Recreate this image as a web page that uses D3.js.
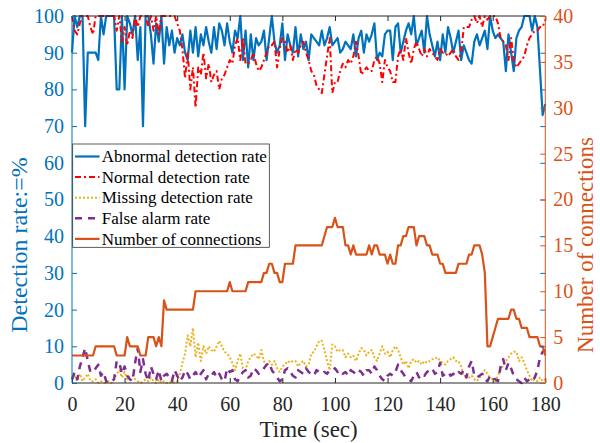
<!DOCTYPE html>
<html>
<head>
<meta charset="utf-8">
<script src="https://cdn.jsdelivr.net/npm/d3@7"></script>
<style>
body { margin: 0; background: #fff; }
</style>
</head>
<body>
<div class="svg-container"></div>
<script>
// seconds 0..180
let seconds = d3.range(0, 181);

let abnormalRate = [
    90,100,97,100,100,70,90,90,90,90,
    88,100,95,100,100,100,100,80,80,100,
    80,100,98,95,100,88,97,70,100,100,
    95,87,98,93,100,87,97,92,96,90,
    94,92,95,90,88,96,90,97,89,95,
    92,97,93,90,97,91,98,96,92,98,
    93,90,96,94,100,88,96,86,95,88,
    94,92,93,96,88,94,100,93,90,92,
    98,88,95,92,90,97,89,95,91,93,
    88,95,94,93,92,96,92,94,97,92,
    93,94,90,91,93,92,91,95,89,94,
    96,90,95,93,95,98,88,90,89,95,
    96,96,88,97,98,90,93,96,98,95,
    100,92,94,96,90,100,95,92,89,93,
    88,95,90,97,94,90,93,96,88,92,
    90,88,87,93,95,92,94,96,91,100,
    96,94,95,94,93,85,95,90,85,94,
    96,97,100,100,100,96,100,97,85,73,
    76];

let normalRate = [
    100,96,95,98,100,100,100,97,95,100,
    100,100,100,100,100,100,100,96,100,93,
    97,92,96,94,100,97,100,100,100,97,
    100,96,100,95,100,100,100,100,100,100,
    98,96,91,83,90,80,86,75,86,84,
    90,83,87,82,84,85,80,83,84,86,
    88,87,92,94,88,94,87,87,88,90,
    87,85,86,88,90,92,92,93,86,91,
    94,93,90,92,88,91,90,92,93,90,
    88,85,84,81,80,79,84,89,94,79,
    82,82,85,87,86,88,87,89,93,89,
    84,85,86,85,85,88,89,87,82,88,
    86,85,82,82,89,91,88,94,90,87,
    91,93,91,89,91,89,91,90,89,88,
    91,90,90,89,90,91,89,88,90,97,
    97,97,99,100,98,100,97,100,99,100,
    100,100,98,94,93,92,88,94,88,86,
    87,88,89,92,94,95,96,96,97,97,
    99];

let missingRate = [
    1,2,0.5,2.5,0.5,1.5,2.5,0.5,0.5,1,
    0,0.5,0,0,0.5,0,1,2.5,3.5,1.5,
    3,1,2,2,1,0.5,0,0.5,1,0.5,
    1.5,0.5,0,1,0,0.5,0,0,0.5,0,
    0.5,2.5,5.5,8,13,10,15,7,11,6,
    10,8,10,9,8.5,10,11.5,10,8.5,8,
    7,5.5,3.5,6,8,4,3.5,6,7,8,
    7.5,6.5,9,6,4.5,6,5,6,4,3,
    4.5,5,6,5.5,6,6,4.5,5.5,6,4.5,
    5,8,8.5,10,11.5,11.5,9,6,3.5,10.5,
    10,8.5,9,9,7,8,7,7.5,6,8,
    9.5,9,7.5,8.5,9,7,6,8,10,8,
    8.5,7,9,10,9,7,5,6,4,6,
    6.5,5.5,6,5,6,5.5,6,6.5,6.5,7,
    6,5.5,5,6,6.5,7,6,6,4.5,2,
    1.5,1.5,2,1,0.5,1.5,2,3.5,2.5,1.5,
    1,0.5,2,3.5,5,6,7,8,8.5,8.5,
    6,7,5.5,3.5,2,0.5,1,0.5,1.5,0.5,
    1];

let falseAlarmRate = [
    1,3,1,4.5,7,9.5,6,3,3,4,
    5,2,3,0.5,0,0.5,1,6,5.5,2.5,
    4.5,2,1,0.5,5.5,9.5,3,6.5,2.5,0.5,
    4.5,2.5,1,3.5,0.5,2,2.5,1.5,0.5,3.5,
    2,0.5,1.5,3.5,2.5,1,2,3,1.5,2.5,
    3.5,1,2.5,2,3,1.5,2.5,1,0.5,4,
    3,3.5,1,0.5,2,3,3.5,1.5,2,4,
    3.5,2.5,3,4,5,5.5,3.5,2.5,1.5,0.5,
    1,3.5,4,3,2,1.5,3.5,3,2.5,4,
    3,2.5,2,3.5,3,2.5,3,2.5,3.5,3.5,
    4,3,3.5,2.5,3,2,3.5,3,2.5,3.5,
    3,2,3.5,3.5,2.5,4.5,3.5,2,1,0.5,
    2,2.5,2,3,5,3.5,2.5,1.5,1,0.5,
    2,3,1.5,2.5,2,3,3.5,4,2.5,3,
    5.5,2,2.5,3,2,2.5,2,3,2.5,3.5,
    1.5,4.5,6,2,1.5,2,2.5,1,0.5,2,
    1.5,1,0.5,4.5,6.5,3.5,5.5,4,2,1,
    0.5,0,1.5,0.5,1,0.5,1.5,3.5,7,8.5,
    9];

let connections = [
    3,3,3,3,3,3,3,3,3,4,
    4,4,4,4,4,4,4,3,3,3,
    3,5,4,4,4,4,3,3,3,5,
    5,5,4,5,4,9,8,8,8,8,
    8,8,8,8,8,8,8,10,10,10,
    10,10,10,10,10,10,10,10,10,10,
    11,10,10,10,10,10,10,11,11,11,
    11,11,11,12,12,13,13,12,12,11,
    11,13,13,13,13,15,15,15,15,15,
    15,15,15,15,15,15,16,17,17,17,
    18,17,17,17,15,15,14,15,14,14,
    14,14,14,15,14,15,15,14,14,14,
    13,14,13,13,15,15,16,16,17,17,
    17,15,16,16,16,15,15,14,14,14,
    13,13,12,12,12,12,12,13,13,13,
    13,14,14,15,15,15,14,12,4,4,
    5,6,7,7,7,7,7,8,8,7,
    7,6,6,6,5,5,5,5,4,4,
    3];

let xTicks = [0, 20, 40, 60, 80, 100, 120, 140, 160, 180];
let leftTicks = [0, 10, 20, 30, 40, 50, 60, 70, 80, 90, 100];
let rightTicks = [0, 5, 10, 15, 20, 25, 30, 35, 40];

let legendLabels = ["Abnormal detection rate", "Normal detection rate",
    "Missing detection rate", "False alarm rate", "Number of connections"];

let width = 600;
let height = 443;

let FONT = "'Liberation Serif', 'Times New Roman', serif";
let BLUE = "#0072BD";
let ORANGE = "#D95319";
let AXIS_GRAY = "#262626";

let svg = d3.select(".svg-container")
    .append("svg")
    .attr("width", width)
    .attr("height", height)
    .style("font-family", FONT);

let plotLeft = 72, plotRight = 545.3, plotTop = 16, plotBottom = 383;

let x = d3.scaleLinear().domain([0, 180]).range([plotLeft, plotRight]);
let yLeft = d3.scaleLinear().domain([0, 100]).range([plotBottom, plotTop]);
let yRight = d3.scaleLinear().domain([0, 40]).range([plotBottom, plotTop]);

// series: data, axis, colour, dash, width
let series = [
    { values: abnormalRate, y: yLeft, color: BLUE, dash: null, w: 2.2 },
    { values: normalRate, y: yLeft, color: "#FF0000", dash: "6,3,2,3", w: 2 },
    { values: missingRate, y: yLeft, color: "#EDB120", dash: "2,2", w: 2 },
    { values: falseAlarmRate, y: yLeft, color: "#7E2F8E", dash: "7,6", w: 2.5 },
    { values: connections, y: yRight, color: ORANGE, dash: null, w: 2.2 }
];

let plot = svg.append("g");

series.forEach(function(s) {
    let line = d3.line()
        .x(function(d, i) { return x(seconds[i]); })
        .y(function(d) { return s.y(d); });
    plot.append("path")
        .datum(s.values)
        .attr("fill", "none")
        .attr("stroke", s.color)
        .attr("stroke-width", s.w)
        .attr("stroke-linejoin", "round")
        .attr("stroke-dasharray", s.dash)
        .attr("d", line);
});

function styleAxis(g, color, size)
{
    g.attr("font-family", null);
    g.select(".domain").remove();
    g.selectAll("line").attr("stroke", color).attr("stroke-width", 1);
    g.selectAll("text")
        .attr("fill", color)
        .style("font-family", FONT)
        .style("font-size", size + "px");
}

// bottom / top axes
svg.append("g")
    .attr("transform", "translate(0," + plotBottom + ")")
    .call(d3.axisBottom(x).tickValues(xTicks).tickSizeInner(-5).tickSizeOuter(0).tickPadding(14))
    .call(styleAxis, AXIS_GRAY, 20);

svg.append("g")
    .attr("transform", "translate(0," + plotTop + ")")
    .call(d3.axisTop(x).tickValues(xTicks).tickSizeInner(-5).tickSizeOuter(0).tickFormat(""))
    .call(styleAxis, AXIS_GRAY, 20);

svg.append("line").attr("x1", plotLeft).attr("x2", plotRight).attr("y1", plotBottom).attr("y2", plotBottom)
    .attr("stroke", AXIS_GRAY).attr("stroke-width", 1);
svg.append("line").attr("x1", plotLeft).attr("x2", plotRight).attr("y1", plotTop).attr("y2", plotTop)
    .attr("stroke", AXIS_GRAY).attr("stroke-width", 1);

// left axis (rates)
svg.append("g")
    .attr("transform", "translate(" + plotLeft + ",0)")
    .call(d3.axisLeft(yLeft).tickValues(leftTicks).tickSizeInner(-5).tickSizeOuter(0).tickPadding(8))
    .call(styleAxis, BLUE, 20);

// mirrored left ticks on the right side
svg.append("g")
    .attr("transform", "translate(" + plotRight + ",0)")
    .call(d3.axisRight(yLeft).tickValues(leftTicks).tickSizeInner(-5).tickSizeOuter(0).tickFormat(""))
    .call(styleAxis, BLUE, 20);

// right axis (connections)
svg.append("g")
    .attr("transform", "translate(" + plotRight + ",0)")
    .call(d3.axisRight(yRight).tickValues(rightTicks).tickSizeInner(-5).tickSizeOuter(0).tickPadding(8))
    .call(styleAxis, ORANGE, 20);

svg.append("line").attr("x1", plotLeft).attr("x2", plotLeft).attr("y1", plotTop).attr("y2", plotBottom)
    .attr("stroke", BLUE).attr("stroke-width", 1);
svg.append("line").attr("x1", plotRight).attr("x2", plotRight).attr("y1", plotTop).attr("y2", plotBottom)
    .attr("stroke", ORANGE).attr("stroke-width", 1);

// axis labels
svg.append("text")
    .attr("x", (plotLeft + plotRight) / 2)
    .attr("y", 437)
    .attr("text-anchor", "middle")
    .attr("fill", AXIS_GRAY)
    .style("font-size", "23px")
    .text("Time (sec)");

svg.append("text")
    .attr("transform", "translate(27,245) rotate(-90)")
    .attr("text-anchor", "middle")
    .attr("fill", BLUE)
    .style("font-size", "24px")
    .text("Detection rate:=%");

svg.append("text")
    .attr("transform", "translate(593,245) rotate(-90)")
    .attr("text-anchor", "middle")
    .attr("fill", ORANGE)
    .style("font-size", "23px")
    .text("Number of connections");

// legend
let legend = svg.append("g");
legend.append("rect")
    .attr("x", 72.7).attr("y", 144)
    .attr("width", 196.6).attr("height", 103.3)
    .attr("fill", "#fff")
    .attr("stroke", AXIS_GRAY)
    .attr("stroke-width", 0.75);

series.forEach(function(s, i) {
    let cy = 156.5 + i * 20.6;
    legend.append("line")
        .attr("x1", 75).attr("x2", 99.5)
        .attr("y1", cy).attr("y2", cy)
        .attr("stroke", s.color)
        .attr("stroke-width", s.w)
        .attr("stroke-dasharray", s.dash);
    legend.append("text")
        .attr("x", 101.7).attr("y", cy)
        .attr("dy", "0.33em")
        .attr("fill", "#000")
        .style("font-size", "17px")
        .text(legendLabels[i]);
});
</script>
</body>
</html>
